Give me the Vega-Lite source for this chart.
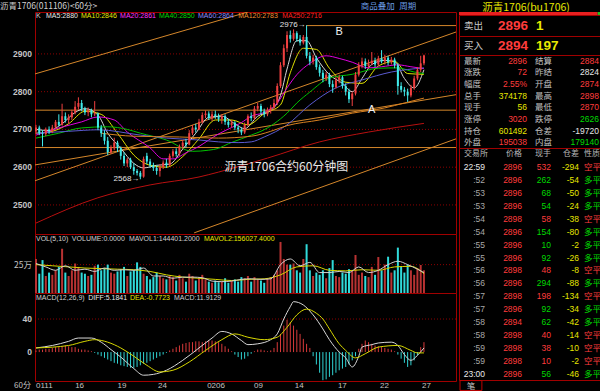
{
"$schema":"https://vega.github.io/schema/vega-lite/v6.json",
"background":"#000000",
"padding":0,
"spacing":0,
"config":{
 "view":{"stroke":"#a00000","strokeWidth":1},
 "concat":{"spacing":0},
 "font":"Liberation Sans"
},
"datasets":{
 "bars":[
{"i":0,"o":2695,"h":2712,"l":2688,"c":2705,"v":300000,"m":2},
{"i":1,"o":2705,"h":2710,"l":2685,"c":2690,"v":170000,"m":3},
{"i":2,"o":2690,"h":2698,"l":2655,"c":2688,"v":290000,"m":3},
{"i":3,"o":2688,"h":2705,"l":2682,"c":2700,"v":150000,"m":4},
{"i":4,"o":2700,"h":2708,"l":2688,"c":2695,"v":180000,"m":4},
{"i":5,"o":2695,"h":2712,"l":2690,"c":2705,"v":160000,"m":5},
{"i":6,"o":2705,"h":2725,"l":2700,"c":2720,"v":200000,"m":6},
{"i":7,"o":2720,"h":2740,"l":2708,"c":2712,"v":230000,"m":6},
{"i":8,"o":2712,"h":2768,"l":2710,"c":2735,"v":390000,"m":7},
{"i":9,"o":2735,"h":2745,"l":2718,"c":2725,"v":180000,"m":8},
{"i":10,"o":2725,"h":2740,"l":2715,"c":2732,"v":150000,"m":7},
{"i":11,"o":2732,"h":2752,"l":2725,"c":2745,"v":200000,"m":6},
{"i":12,"o":2745,"h":2775,"l":2740,"c":2760,"v":260000,"m":6},
{"i":13,"o":2760,"h":2785,"l":2752,"c":2770,"v":230000,"m":4},
{"i":14,"o":2770,"h":2778,"l":2748,"c":2755,"v":180000,"m":3},
{"i":15,"o":2755,"h":2760,"l":2738,"c":2745,"v":170000,"m":3},
{"i":16,"o":2745,"h":2758,"l":2735,"c":2750,"v":150000,"m":2},
{"i":17,"o":2750,"h":2755,"l":2732,"c":2740,"v":160000,"m":1},
{"i":18,"o":2740,"h":2775,"l":2735,"c":2742,"v":240000,"m":-1},
{"i":19,"o":2742,"h":2745,"l":2698,"c":2705,"v":250000,"m":-3},
{"i":20,"o":2705,"h":2712,"l":2680,"c":2690,"v":200000,"m":-5},
{"i":21,"o":2690,"h":2698,"l":2660,"c":2670,"v":220000,"m":-7},
{"i":22,"o":2670,"h":2680,"l":2632,"c":2640,"v":250000,"m":-9},
{"i":23,"o":2640,"h":2658,"l":2635,"c":2650,"v":180000,"m":-11},
{"i":24,"o":2650,"h":2678,"l":2645,"c":2665,"v":170000,"m":-13},
{"i":25,"o":2665,"h":2670,"l":2640,"c":2650,"v":190000,"m":-14},
{"i":26,"o":2650,"h":2655,"l":2620,"c":2630,"v":210000,"m":-16},
{"i":27,"o":2630,"h":2640,"l":2603,"c":2610,"v":230000,"m":-17},
{"i":28,"o":2610,"h":2625,"l":2600,"c":2620,"v":150000,"m":-18},
{"i":29,"o":2620,"h":2625,"l":2595,"c":2600,"v":190000,"m":-19},
{"i":30,"o":2600,"h":2610,"l":2580,"c":2590,"v":200000,"m":-19},
{"i":31,"o":2590,"h":2595,"l":2578,"c":2585,"v":270000,"m":-18},
{"i":32,"o":2585,"h":2590,"l":2568,"c":2575,"v":230000,"m":-16},
{"i":33,"o":2575,"h":2628,"l":2572,"c":2622,"v":170000,"m":-14},
{"i":34,"o":2630,"h":2638,"l":2608,"c":2615,"v":150000,"m":-13},
{"i":35,"o":2615,"h":2622,"l":2598,"c":2605,"v":120000,"m":-11},
{"i":36,"o":2605,"h":2612,"l":2590,"c":2598,"v":140000,"m":-9},
{"i":37,"o":2598,"h":2605,"l":2580,"c":2590,"v":180000,"m":-7},
{"i":38,"o":2590,"h":2608,"l":2575,"c":2600,"v":150000,"m":-5},
{"i":39,"o":2600,"h":2618,"l":2595,"c":2612,"v":130000,"m":-3},
{"i":40,"o":2612,"h":2622,"l":2598,"c":2605,"v":120000,"m":-1},
{"i":41,"o":2605,"h":2636,"l":2602,"c":2630,"v":150000,"m":2},
{"i":42,"o":2630,"h":2648,"l":2625,"c":2642,"v":140000,"m":4},
{"i":43,"o":2642,"h":2650,"l":2628,"c":2635,"v":110000,"m":6},
{"i":44,"o":2635,"h":2660,"l":2630,"c":2655,"v":160000,"m":8},
{"i":45,"o":2655,"h":2672,"l":2648,"c":2665,"v":130000,"m":10},
{"i":46,"o":2665,"h":2675,"l":2652,"c":2660,"v":100000,"m":11},
{"i":47,"o":2660,"h":2698,"l":2658,"c":2690,"v":170000,"m":12},
{"i":48,"o":2690,"h":2712,"l":2685,"c":2705,"v":150000,"m":12},
{"i":49,"o":2705,"h":2715,"l":2692,"c":2700,"v":110000,"m":13},
{"i":50,"o":2700,"h":2728,"l":2698,"c":2720,"v":130000,"m":13},
{"i":51,"o":2720,"h":2745,"l":2715,"c":2738,"v":160000,"m":12},
{"i":52,"o":2738,"h":2750,"l":2730,"c":2742,"v":120000,"m":13},
{"i":53,"o":2742,"h":2748,"l":2725,"c":2730,"v":100000,"m":14},
{"i":54,"o":2730,"h":2748,"l":2722,"c":2740,"v":90000,"m":14},
{"i":55,"o":2740,"h":2750,"l":2728,"c":2735,"v":110000,"m":13},
{"i":56,"o":2735,"h":2742,"l":2720,"c":2728,"v":95000,"m":12},
{"i":57,"o":2728,"h":2740,"l":2715,"c":2735,"v":100000,"m":10},
{"i":58,"o":2735,"h":2740,"l":2712,"c":2720,"v":130000,"m":7},
{"i":59,"o":2720,"h":2728,"l":2705,"c":2712,"v":90000,"m":4},
{"i":60,"o":2712,"h":2725,"l":2705,"c":2718,"v":110000,"m":1},
{"i":61,"o":2718,"h":2722,"l":2698,"c":2705,"v":120000,"m":-3},
{"i":62,"o":2705,"h":2710,"l":2690,"c":2700,"v":100000,"m":-6},
{"i":63,"o":2700,"h":2705,"l":2685,"c":2692,"v":140000,"m":-9},
{"i":64,"o":2692,"h":2718,"l":2688,"c":2712,"v":130000,"m":-8},
{"i":65,"o":2712,"h":2740,"l":2708,"c":2735,"v":150000,"m":-5},
{"i":66,"o":2735,"h":2745,"l":2722,"c":2730,"v":100000,"m":-2},
{"i":67,"o":2730,"h":2762,"l":2725,"c":2755,"v":140000,"m":1},
{"i":68,"o":2755,"h":2770,"l":2748,"c":2762,"v":120000,"m":3},
{"i":69,"o":2762,"h":2768,"l":2740,"c":2748,"v":110000,"m":3},
{"i":70,"o":2748,"h":2755,"l":2732,"c":2740,"v":90000,"m":2},
{"i":71,"o":2740,"h":2758,"l":2735,"c":2750,"v":130000,"m":1},
{"i":72,"o":2750,"h":2765,"l":2742,"c":2758,"v":140000,"m":2},
{"i":73,"o":2758,"h":2780,"l":2752,"c":2770,"v":160000,"m":5},
{"i":74,"o":2770,"h":2822,"l":2765,"c":2815,"v":200000,"m":12},
{"i":75,"o":2815,"h":2878,"l":2810,"c":2870,"v":450000,"m":22},
{"i":76,"o":2870,"h":2925,"l":2865,"c":2915,"v":300000,"m":32},
{"i":77,"o":2915,"h":2960,"l":2905,"c":2950,"v":250000,"m":39},
{"i":78,"o":2950,"h":2962,"l":2930,"c":2940,"v":250000,"m":36},
{"i":79,"o":2940,"h":2965,"l":2935,"c":2955,"v":260000,"m":32},
{"i":80,"o":2955,"h":2960,"l":2932,"c":2940,"v":200000,"m":27},
{"i":81,"o":2940,"h":2950,"l":2922,"c":2930,"v":180000,"m":22},
{"i":82,"o":2930,"h":2950,"l":2925,"c":2945,"v":300000,"m":16},
{"i":83,"o":2945,"h":2976,"l":2888,"c":2895,"v":430000,"m":10},
{"i":84,"o":2895,"h":2905,"l":2870,"c":2880,"v":200000,"m":5},
{"i":85,"o":2880,"h":2898,"l":2872,"c":2890,"v":150000,"m":-5},
{"i":86,"o":2890,"h":2895,"l":2858,"c":2865,"v":180000,"m":-15},
{"i":87,"o":2865,"h":2872,"l":2840,"c":2850,"v":160000,"m":-25},
{"i":88,"o":2850,"h":2858,"l":2825,"c":2835,"v":200000,"m":-34},
{"i":89,"o":2835,"h":2852,"l":2828,"c":2845,"v":130000,"m":-33},
{"i":90,"o":2845,"h":2850,"l":2812,"c":2820,"v":220000,"m":-30},
{"i":91,"o":2820,"h":2830,"l":2797,"c":2812,"v":290000,"m":-28},
{"i":92,"o":2812,"h":2840,"l":2808,"c":2830,"v":150000,"m":-25},
{"i":93,"o":2830,"h":2845,"l":2822,"c":2838,"v":140000,"m":-22},
{"i":94,"o":2838,"h":2842,"l":2808,"c":2815,"v":180000,"m":-20},
{"i":95,"o":2815,"h":2822,"l":2790,"c":2800,"v":170000,"m":-18},
{"i":96,"o":2800,"h":2808,"l":2770,"c":2780,"v":210000,"m":-15},
{"i":97,"o":2780,"h":2800,"l":2762,"c":2795,"v":200000,"m":-10},
{"i":98,"o":2795,"h":2852,"l":2790,"c":2845,"v":335000,"m":-5},
{"i":99,"o":2845,"h":2878,"l":2840,"c":2870,"v":160000,"m":4},
{"i":100,"o":2870,"h":2890,"l":2862,"c":2880,"v":180000,"m":10},
{"i":101,"o":2880,"h":2888,"l":2860,"c":2868,"v":150000,"m":14},
{"i":102,"o":2868,"h":2885,"l":2862,"c":2875,"v":140000,"m":12},
{"i":103,"o":2875,"h":2905,"l":2870,"c":2882,"v":230000,"m":10},
{"i":104,"o":2882,"h":2890,"l":2865,"c":2872,"v":160000,"m":8},
{"i":105,"o":2872,"h":2895,"l":2868,"c":2888,"v":317000,"m":7},
{"i":106,"o":2888,"h":2910,"l":2875,"c":2880,"v":200000,"m":6},
{"i":107,"o":2880,"h":2898,"l":2872,"c":2890,"v":250000,"m":5},
{"i":108,"o":2890,"h":2895,"l":2870,"c":2878,"v":320000,"m":4},
{"i":109,"o":2878,"h":2892,"l":2872,"c":2885,"v":180000,"m":3},
{"i":110,"o":2885,"h":2890,"l":2862,"c":2870,"v":200000,"m":1},
{"i":111,"o":2870,"h":2875,"l":2792,"c":2815,"v":400000,"m":-3},
{"i":112,"o":2815,"h":2825,"l":2798,"c":2805,"v":230000,"m":-8},
{"i":113,"o":2805,"h":2812,"l":2788,"c":2800,"v":180000,"m":-13},
{"i":114,"o":2800,"h":2808,"l":2773,"c":2790,"v":250000,"m":-18},
{"i":115,"o":2790,"h":2818,"l":2785,"c":2810,"v":200000,"m":-16},
{"i":116,"o":2810,"h":2842,"l":2805,"c":2835,"v":160000,"m":-10},
{"i":117,"o":2835,"h":2865,"l":2830,"c":2858,"v":220000,"m":-4},
{"i":118,"o":2858,"h":2895,"l":2852,"c":2875,"v":247000,"m":6},
{"i":119,"o":2875,"h":2898,"l":2870,"c":2896,"v":200000,"m":12}
 ],
 "ma":[
{"s":"MA5","i":0,"p":2700},{"s":"MA5","i":4,"p":2697},{"s":"MA5","i":8,"p":2715},{"s":"MA5","i":12,"p":2745},{"s":"MA5","i":15,"p":2755},{"s":"MA5","i":19,"p":2738},{"s":"MA5","i":22,"p":2690},{"s":"MA5","i":26,"p":2650},{"s":"MA5","i":30,"p":2610},{"s":"MA5","i":33,"p":2598},{"s":"MA5","i":37,"p":2605},{"s":"MA5","i":41,"p":2608},{"s":"MA5","i":45,"p":2648},{"s":"MA5","i":49,"p":2690},{"s":"MA5","i":53,"p":2732},{"s":"MA5","i":57,"p":2735},{"s":"MA5","i":61,"p":2715},{"s":"MA5","i":64,"p":2702},{"s":"MA5","i":68,"p":2735},{"s":"MA5","i":72,"p":2750},{"s":"MA5","i":75,"p":2790},{"s":"MA5","i":77,"p":2860},{"s":"MA5","i":80,"p":2935},{"s":"MA5","i":83,"p":2935},{"s":"MA5","i":86,"p":2890},{"s":"MA5","i":90,"p":2845},{"s":"MA5","i":94,"p":2822},{"s":"MA5","i":97,"p":2800},{"s":"MA5","i":100,"p":2835},{"s":"MA5","i":103,"p":2872},{"s":"MA5","i":107,"p":2883},{"s":"MA5","i":110,"p":2880},{"s":"MA5","i":113,"p":2835},{"s":"MA5","i":116,"p":2810},{"s":"MA5","i":119,"p":2858},
{"s":"MA10","i":0,"p":2690},{"s":"MA10","i":5,"p":2695},{"s":"MA10","i":10,"p":2715},{"s":"MA10","i":15,"p":2748},{"s":"MA10","i":20,"p":2740},{"s":"MA10","i":25,"p":2690},{"s":"MA10","i":30,"p":2632},{"s":"MA10","i":35,"p":2605},{"s":"MA10","i":40,"p":2600},{"s":"MA10","i":45,"p":2628},{"s":"MA10","i":50,"p":2675},{"s":"MA10","i":55,"p":2725},{"s":"MA10","i":60,"p":2725},{"s":"MA10","i":65,"p":2712},{"s":"MA10","i":70,"p":2742},{"s":"MA10","i":75,"p":2765},{"s":"MA10","i":78,"p":2850},{"s":"MA10","i":82,"p":2915},{"s":"MA10","i":86,"p":2912},{"s":"MA10","i":90,"p":2862},{"s":"MA10","i":95,"p":2825},{"s":"MA10","i":100,"p":2822},{"s":"MA10","i":105,"p":2868},{"s":"MA10","i":110,"p":2880},{"s":"MA10","i":114,"p":2848},{"s":"MA10","i":119,"p":2846},
{"s":"MA20","i":0,"p":2685},{"s":"MA20","i":7,"p":2704},{"s":"MA20","i":14,"p":2720},{"s":"MA20","i":19,"p":2733},{"s":"MA20","i":24,"p":2725},{"s":"MA20","i":28,"p":2693},{"s":"MA20","i":35,"p":2651},{"s":"MA20","i":39,"p":2622},{"s":"MA20","i":42,"p":2622},{"s":"MA20","i":46,"p":2638},{"s":"MA20","i":50,"p":2655},{"s":"MA20","i":53,"p":2672},{"s":"MA20","i":56,"p":2688},{"s":"MA20","i":60,"p":2705},{"s":"MA20","i":63,"p":2718},{"s":"MA20","i":66,"p":2735},{"s":"MA20","i":70,"p":2745},{"s":"MA20","i":74,"p":2770},{"s":"MA20","i":77,"p":2810},{"s":"MA20","i":80,"p":2845},{"s":"MA20","i":84,"p":2875},{"s":"MA20","i":89,"p":2895},{"s":"MA20","i":93,"p":2888},{"s":"MA20","i":97,"p":2878},{"s":"MA20","i":102,"p":2863},{"s":"MA20","i":106,"p":2866},{"s":"MA20","i":111,"p":2871},{"s":"MA20","i":115,"p":2866},{"s":"MA20","i":119,"p":2861},
{"s":"MA40","i":0,"p":2677},{"s":"MA40","i":7,"p":2690},{"s":"MA40","i":14,"p":2704},{"s":"MA40","i":22,"p":2707},{"s":"MA40","i":28,"p":2700},{"s":"MA40","i":32,"p":2690},{"s":"MA40","i":40,"p":2672},{"s":"MA40","i":48,"p":2642},{"s":"MA40","i":53,"p":2645},{"s":"MA40","i":56,"p":2650},{"s":"MA40","i":59,"p":2662},{"s":"MA40","i":63,"p":2675},{"s":"MA40","i":66,"p":2685},{"s":"MA40","i":69,"p":2695},{"s":"MA40","i":73,"p":2715},{"s":"MA40","i":77,"p":2743},{"s":"MA40","i":80,"p":2770},{"s":"MA40","i":84,"p":2799},{"s":"MA40","i":90,"p":2836},{"s":"MA40","i":97,"p":2846},{"s":"MA40","i":105,"p":2862},{"s":"MA40","i":111,"p":2863},{"s":"MA40","i":116,"p":2852},{"s":"MA40","i":119,"p":2848},
{"s":"MA60","i":0,"p":2690},{"s":"MA60","i":10,"p":2695},{"s":"MA60","i":19,"p":2699},{"s":"MA60","i":32,"p":2685},{"s":"MA60","i":40,"p":2677},{"s":"MA60","i":50,"p":2672},{"s":"MA60","i":56,"p":2667},{"s":"MA60","i":62,"p":2665},{"s":"MA60","i":66,"p":2667},{"s":"MA60","i":70,"p":2680},{"s":"MA60","i":77,"p":2712},{"s":"MA60","i":84,"p":2765},{"s":"MA60","i":92,"p":2810},{"s":"MA60","i":100,"p":2831},{"s":"MA60","i":109,"p":2852},{"s":"MA60","i":119,"p":2863},
{"s":"MA120","i":20,"p":2690},{"s":"MA120","i":30,"p":2682},{"s":"MA120","i":44,"p":2680},{"s":"MA120","i":56,"p":2677},{"s":"MA120","i":66,"p":2682},{"s":"MA120","i":72,"p":2695},{"s":"MA120","i":77,"p":2710},{"s":"MA120","i":87,"p":2725},{"s":"MA120","i":97,"p":2743},{"s":"MA120","i":107,"p":2757},{"s":"MA120","i":113,"p":2770},{"s":"MA120","i":119,"p":2783},
{"s":"MA250","i":0,"p":2452},{"s":"MA250","i":19,"p":2519},{"s":"MA250","i":35,"p":2553},{"s":"MA250","i":50,"p":2574},{"s":"MA250","i":56,"p":2587},{"s":"MA250","i":71,"p":2624},{"s":"MA250","i":87,"p":2667},{"s":"MA250","i":102,"p":2693},{"s":"MA250","i":119,"p":2716}
 ],
 "tl":[
{"g":"d1","i":-0.31,"p":2847},{"g":"d1","i":65,"p":3011},
{"g":"d2","i":-0.31,"p":2606},{"g":"d2","i":128.83,"p":2792},
{"g":"d3","i":-0.31,"p":2564},{"g":"d3","i":128.83,"p":2958},
{"g":"d4","i":48.5,"p":2426},{"g":"d4","i":128.83,"p":2675},
{"g":"h1","i":-0.31,"p":2751},{"g":"h1","i":128.83,"p":2751},
{"g":"h2","i":-0.31,"p":2652},{"g":"h2","i":128.83,"p":2652},
{"g":"hb","i":83,"p":2975},{"g":"hb","i":128.83,"p":2975}
 ],
 "pt":[{"v":2500,"t":"2500"},{"v":2600,"t":"2600"},{"v":2700,"t":"2700"},{"v":2800,"t":"2800"},{"v":2900,"t":"2900"}],
 "vt":[{"v":250000,"t":"25万"}],
 "mt":[{"v":0,"t":"0"},{"v":40,"t":"40"}],
 "ext":[{"t":"2568→","i":32,"p":2568},{"t":"2976→","i":83,"p":2976}],
 "lab":[{"k":"B","t":"B"},{"k":"A","t":"A"},{"k":"T","t":"沥青1706合约60分钟图"}],
 "pleg":[{"s":"K","t":"K"},{"s":"MA5","t":"MA5:2880"},{"s":"MA10","t":"MA10:2846"},{"s":"MA20","t":"MA20:2861"},{"s":"MA40","t":"MA40:2850"},{"s":"MA60","t":"MA60:2864"},{"s":"MA120","t":"MA120:2783"},{"s":"MA250","t":"MA250:2716"}],
 "vma":[
{"s":"MAVOL2","i":0,"v":250000},{"s":"MAVOL2","i":5,"v":240000},{"s":"MAVOL2","i":10,"v":230000},{"s":"MAVOL2","i":15,"v":220000},{"s":"MAVOL2","i":20,"v":215000},{"s":"MAVOL2","i":25,"v":210000},{"s":"MAVOL2","i":30,"v":205000},{"s":"MAVOL2","i":35,"v":190000},{"s":"MAVOL2","i":40,"v":160000},{"s":"MAVOL2","i":45,"v":140000},{"s":"MAVOL2","i":50,"v":130000},{"s":"MAVOL2","i":55,"v":120000},{"s":"MAVOL2","i":60,"v":110000},{"s":"MAVOL2","i":65,"v":120000},{"s":"MAVOL2","i":70,"v":125000},{"s":"MAVOL2","i":75,"v":160000},{"s":"MAVOL2","i":80,"v":230000},{"s":"MAVOL2","i":85,"v":240000},{"s":"MAVOL2","i":90,"v":200000},{"s":"MAVOL2","i":95,"v":195000},{"s":"MAVOL2","i":100,"v":205000},{"s":"MAVOL2","i":105,"v":200000},{"s":"MAVOL2","i":110,"v":230000},{"s":"MAVOL2","i":115,"v":235000},{"s":"MAVOL2","i":119,"v":170000},
{"s":"MAVOL1","i":0,"v":260000},{"s":"MAVOL1","i":3,"v":230000},{"s":"MAVOL1","i":6,"v":200000},{"s":"MAVOL1","i":9,"v":240000},{"s":"MAVOL1","i":12,"v":200000},{"s":"MAVOL1","i":15,"v":210000},{"s":"MAVOL1","i":18,"v":190000},{"s":"MAVOL1","i":21,"v":220000},{"s":"MAVOL1","i":24,"v":200000},{"s":"MAVOL1","i":27,"v":205000},{"s":"MAVOL1","i":30,"v":200000},{"s":"MAVOL1","i":33,"v":220000},{"s":"MAVOL1","i":36,"v":150000},{"s":"MAVOL1","i":39,"v":150000},{"s":"MAVOL1","i":42,"v":130000},{"s":"MAVOL1","i":45,"v":140000},{"s":"MAVOL1","i":48,"v":140000},{"s":"MAVOL1","i":51,"v":135000},{"s":"MAVOL1","i":54,"v":105000},{"s":"MAVOL1","i":57,"v":100000},{"s":"MAVOL1","i":60,"v":105000},{"s":"MAVOL1","i":63,"v":120000},{"s":"MAVOL1","i":66,"v":125000},{"s":"MAVOL1","i":69,"v":120000},{"s":"MAVOL1","i":72,"v":125000},{"s":"MAVOL1","i":75,"v":250000},{"s":"MAVOL1","i":78,"v":300000},{"s":"MAVOL1","i":81,"v":240000},{"s":"MAVOL1","i":84,"v":270000},{"s":"MAVOL1","i":87,"v":180000},{"s":"MAVOL1","i":90,"v":180000},{"s":"MAVOL1","i":93,"v":190000},{"s":"MAVOL1","i":96,"v":180000},{"s":"MAVOL1","i":99,"v":230000},{"s":"MAVOL1","i":102,"v":180000},{"s":"MAVOL1","i":105,"v":200000},{"s":"MAVOL1","i":108,"v":250000},{"s":"MAVOL1","i":111,"v":280000},{"s":"MAVOL1","i":114,"v":250000},{"s":"MAVOL1","i":117,"v":210000},{"s":"MAVOL1","i":119,"v":180000}
 ],
 "vleg":[{"s":"VOL","t":"VOL(5,10)"},{"s":"VOLUME","t":"VOLUME:0.0000"},{"s":"MAVOL1","t":"MAVOL1:144401.2000"},{"s":"MAVOL2","t":"MAVOL2:156027.4000"}],
 "mline":[
{"s":"DIFF","i":0,"m":5},{"s":"DIFF","i":5,"m":8},{"s":"DIFF","i":10,"m":13},{"s":"DIFF","i":13,"m":17},{"s":"DIFF","i":17,"m":17},{"s":"DIFF","i":20,"m":12},{"s":"DIFF","i":23,"m":3},{"s":"DIFF","i":26,"m":-6},{"s":"DIFF","i":30,"m":-20},{"s":"DIFF","i":33,"m":-28},{"s":"DIFF","i":36,"m":-27},{"s":"DIFF","i":40,"m":-22},{"s":"DIFF","i":45,"m":-10},{"s":"DIFF","i":50,"m":5},{"s":"DIFF","i":54,"m":17},{"s":"DIFF","i":57,"m":25},{"s":"DIFF","i":60,"m":22},{"s":"DIFF","i":63,"m":14},{"s":"DIFF","i":65,"m":9},{"s":"DIFF","i":68,"m":10},{"s":"DIFF","i":72,"m":15},{"s":"DIFF","i":74,"m":22},{"s":"DIFF","i":76,"m":40},{"s":"DIFF","i":78,"m":55},{"s":"DIFF","i":79,"m":61},{"s":"DIFF","i":82,"m":57},{"s":"DIFF","i":85,"m":45},{"s":"DIFF","i":88,"m":28},{"s":"DIFF","i":90,"m":15},{"s":"DIFF","i":93,"m":0},{"s":"DIFF","i":95,"m":-7},{"s":"DIFF","i":97,"m":-18},{"s":"DIFF","i":99,"m":-5},{"s":"DIFF","i":100,"m":6},{"s":"DIFF","i":103,"m":9},{"s":"DIFF","i":105,"m":11},{"s":"DIFF","i":109,"m":12},{"s":"DIFF","i":111,"m":8},{"s":"DIFF","i":113,"m":-3},{"s":"DIFF","i":115,"m":-10},{"s":"DIFF","i":117,"m":-4},{"s":"DIFF","i":119,"m":5},
{"s":"DEA","i":0,"m":5},{"s":"DEA","i":10,"m":8},{"s":"DEA","i":15,"m":13},{"s":"DEA","i":18,"m":15},{"s":"DEA","i":22,"m":12},{"s":"DEA","i":26,"m":5},{"s":"DEA","i":30,"m":-5},{"s":"DEA","i":34,"m":-16},{"s":"DEA","i":38,"m":-24},{"s":"DEA","i":42,"m":-22},{"s":"DEA","i":47,"m":-12},{"s":"DEA","i":52,"m":2},{"s":"DEA","i":57,"m":15},{"s":"DEA","i":61,"m":22},{"s":"DEA","i":65,"m":18},{"s":"DEA","i":70,"m":15},{"s":"DEA","i":74,"m":18},{"s":"DEA","i":77,"m":30},{"s":"DEA","i":80,"m":45},{"s":"DEA","i":83,"m":52},{"s":"DEA","i":86,"m":47},{"s":"DEA","i":88,"m":40},{"s":"DEA","i":90,"m":28},{"s":"DEA","i":93,"m":10},{"s":"DEA","i":95,"m":2},{"s":"DEA","i":98,"m":-7},{"s":"DEA","i":101,"m":-2},{"s":"DEA","i":105,"m":6},{"s":"DEA","i":111,"m":8},{"s":"DEA","i":115,"m":2},{"s":"DEA","i":117,"m":-1},{"s":"DEA","i":119,"m":-1}
 ],
 "mleg":[{"s":"MACD","t":"MACD(12,26,9)"},{"s":"DIFF","t":"DIFF:5.1841"},{"s":"DEA","t":"DEA:-0.7723"},{"s":"MACDV","t":"MACD:11.9129"}],
 "xl":[{"t":"0111","i":0},{"t":"16","i":12},{"t":"19","i":25},{"t":"24","i":37.4},{"t":"0206","i":52.5},{"t":"09","i":66.9},{"t":"14","i":79.4},{"t":"17","i":92.6},{"t":"22","i":105.5},{"t":"27","i":118.4}],
 "xunit":[{"t":"60分"}],
 "hdr":[{"k":"title","t":"沥青1706(011106)<60分>"},{"k":"a","t":"商品叠加"},{"k":"b","t":"周期"}],
 "rhead":[{"t":"沥青1706(bu1706)"}],
 "sell":[{"a":"卖出","p":"2896","q":"1"}],
 "buy":[{"a":"买入","p":"2894","q":"197"}],
 "stats":[
{"r":0,"a":"最新","av":"2896","at":"up","b":"结算","bv":"2884","bt":"up"},
{"r":1,"a":"涨跌","av":"72","at":"up","b":"昨结","bv":"2824","bt":"eq"},
{"r":2,"a":"幅度","av":"2.55%","at":"up","b":"开盘","bv":"2874","bt":"up"},
{"r":3,"a":"总手","av":"374178","at":"vol","b":"最高","bv":"2898","bt":"up"},
{"r":4,"a":"现手","av":"56","at":"vol","b":"最低","bv":"2870","bt":"up"},
{"r":5,"a":"涨停","av":"3020","at":"up","b":"跌停","bv":"2626","bt":"dn"},
{"r":6,"a":"持仓","av":"601492","at":"vol","b":"仓差","bv":"-19720","bt":"eq"},
{"r":7,"a":"外盘","av":"195038","at":"up","b":"内盘","bv":"179140","bt":"dn"}
 ],
 "th":[{"r":0,"t":"交易所","p":"价格","q":"现手","d":"仓差","n":"性质"}],
 "tr":[
{"r":1,"t":"22:59","p":"2896","q":"532","d":"-294","n":"空平"},
{"r":2,"t":":52","p":"2896","q":"262","d":"-54","n":"多平"},
{"r":3,"t":":53","p":"2896","q":"68","d":"-50","n":"多平"},
{"r":4,"t":":53","p":"2896","q":"54","d":"-24","n":"多平"},
{"r":5,"t":":54","p":"2898","q":"58","d":"-38","n":"空平"},
{"r":6,"t":":54","p":"2896","q":"154","d":"-80","n":"多平"},
{"r":7,"t":":55","p":"2896","q":"10","d":"-2","n":"多平"},
{"r":8,"t":":55","p":"2896","q":"92","d":"-26","n":"多平"},
{"r":9,"t":":56","p":"2898","q":"48","d":"-8","n":"空平"},
{"r":10,"t":":56","p":"2896","q":"294","d":"-88","n":"多平"},
{"r":11,"t":":57","p":"2898","q":"198","d":"-134","n":"空平"},
{"r":12,"t":":57","p":"2896","q":"92","d":"-34","n":"多平"},
{"r":13,"t":":58","p":"2894","q":"62","d":"-42","n":"多平"},
{"r":14,"t":":58","p":"2898","q":"40","d":"-14","n":"空平"},
{"r":15,"t":":59","p":"2898","q":"38","d":"-10","n":"空平"},
{"r":16,"t":":59","p":"2898","q":"10","d":"-2","n":"空平"},
{"r":17,"t":"23:00","p":"2896","q":"56","d":"-46","n":"多平"}
 ],
 "tab":[{"t":"笔"}],
 "deco":[{"k":"line"}]
},
"hconcat":[
 {"spacing":0,"bounds":"flush","vconcat":[
  {"width":421,"height":12,"view":{"stroke":null},"layer":[
   {"data":{"name":"hdr"},"transform":[{"filter":"datum.k=='title'"}],"mark":{"type":"text","align":"left","baseline":"middle","dx":-35,"fontSize":8.5,"font":"Noto Sans CJK SC","color":"#d0d0d0"},"encoding":{"x":{"datum":0,"type":"quantitative","scale":{"domain":[0,100],"nice":false,"zero":false},"axis":null},"y":{"datum":0.5,"type":"quantitative","scale":{"domain":[0,1],"nice":false},"axis":null},"text":{"field":"t"}}},
   {"data":{"name":"hdr"},"transform":[{"filter":"datum.k=='a'"}],"mark":{"type":"text","align":"left","baseline":"middle","fontSize":8.5,"font":"Noto Sans CJK SC","color":"#6a9ae0"},"encoding":{"x":{"datum":77.4,"type":"quantitative","scale":{"domain":[0,100],"nice":false,"zero":false},"axis":null},"y":{"datum":0.5,"type":"quantitative","scale":{"domain":[0,1],"nice":false},"axis":null},"text":{"field":"t"}}},
   {"data":{"name":"hdr"},"transform":[{"filter":"datum.k=='b'"}],"mark":{"type":"text","align":"left","baseline":"middle","fontSize":8.5,"font":"Noto Sans CJK SC","color":"#6a9ae0"},"encoding":{"x":{"datum":86.5,"type":"quantitative","scale":{"domain":[0,100],"nice":false,"zero":false},"axis":null},"y":{"datum":0.5,"type":"quantitative","scale":{"domain":[0,1],"nice":false},"axis":null},"text":{"field":"t"}}}
  ]},
  {"width":421,"height":222,"layer":[
   {"data":{"name":"pt"},"mark":{"type":"rule","color":"#8c0000","strokeDash":[1,2],"strokeWidth":1},"encoding":{"y":{"field":"v","type":"quantitative","scale":{"domain":[2423,3011],"nice":false,"zero":false},"axis":null}}},
   {"data":{"name":"pt"},"mark":{"type":"text","align":"right","baseline":"middle","dx":-3,"fontSize":8.5,"fontWeight":"bold","color":"#c4c4c4"},"encoding":{"x":{"datum":-0.31,"type":"quantitative","scale":{"domain":[-0.31,128.83],"nice":false,"zero":false,"padding":0},"axis":null},"y":{"field":"v","type":"quantitative","scale":{"domain":[2423,3011],"nice":false,"zero":false},"axis":null},"text":{"field":"t"}}},
   {"data":{"name":"tl"},"mark":{"type":"line","clip":true,"color":"#d4862a","strokeWidth":1},"encoding":{"x":{"field":"i","type":"quantitative","scale":{"domain":[-0.31,128.83],"nice":false,"zero":false,"padding":0},"axis":null},"y":{"field":"p","type":"quantitative","scale":{"domain":[2423,3011],"nice":false,"zero":false},"axis":null},"detail":{"field":"g"}}},
   {"data":{"name":"ma"},"mark":{"type":"line","clip":true,"strokeWidth":1,"interpolate":"monotone"},"encoding":{"x":{"field":"i","type":"quantitative","scale":{"domain":[-0.31,128.83],"nice":false,"zero":false,"padding":0},"axis":null},"y":{"field":"p","type":"quantitative","scale":{"domain":[2423,3011],"nice":false,"zero":false},"axis":null},"detail":{"field":"s"},"color":{"condition":[{"test":"datum.s=='MA5'","value":"#d8d8d8"},{"test":"datum.s=='MA10'","value":"#e0e000"},{"test":"datum.s=='MA20'","value":"#e000e0"},{"test":"datum.s=='MA40'","value":"#00c000"},{"test":"datum.s=='MA60'","value":"#5a5ad0"},{"test":"datum.s=='MA120'","value":"#d88020"}],"value":"#b81010"}}},
   {"data":{"name":"bars"},"mark":{"type":"rule","strokeWidth":1},"encoding":{"x":{"field":"i","type":"quantitative","scale":{"domain":[-0.31,128.83],"nice":false,"zero":false,"padding":0},"axis":null},"y":{"field":"l","type":"quantitative","scale":{"domain":[2423,3011],"nice":false,"zero":false},"axis":null},"y2":{"field":"h"},"color":{"condition":{"test":"datum.c >= datum.o","value":"#f04040"},"value":"#40ecec"}}},
   {"data":{"name":"bars"},"mark":{"type":"bar","width":2},"encoding":{"x":{"field":"i","type":"quantitative","scale":{"domain":[-0.31,128.83],"nice":false,"zero":false,"padding":0},"axis":null},"y":{"field":"o","type":"quantitative","scale":{"domain":[2423,3011],"nice":false,"zero":false},"axis":null},"y2":{"field":"c"},"color":{"condition":{"test":"datum.c >= datum.o","value":"#f04040"},"value":"#40ecec"}}},
   {"data":{"name":"ext"},"mark":{"type":"text","align":"right","baseline":"middle","dx":-1,"fontSize":8,"color":"#e0e0e0"},"encoding":{"x":{"field":"i","type":"quantitative","scale":{"domain":[-0.31,128.83],"nice":false,"zero":false,"padding":0},"axis":null},"y":{"field":"p","type":"quantitative","scale":{"domain":[2423,3011],"nice":false,"zero":false},"axis":null},"text":{"field":"t"}}},
   {"data":{"name":"lab"},"transform":[{"filter":"datum.k=='B'"}],"mark":{"type":"text","align":"center","baseline":"middle","fontSize":11,"color":"#f0f0f0"},"encoding":{"x":{"datum":93,"type":"quantitative","axis":null},"y":{"datum":2958,"type":"quantitative","axis":null},"text":{"field":"t"}}},
   {"data":{"name":"lab"},"transform":[{"filter":"datum.k=='A'"}],"mark":{"type":"text","align":"center","baseline":"middle","fontSize":11,"color":"#f0f0f0"},"encoding":{"x":{"datum":103,"type":"quantitative","axis":null},"y":{"datum":2752,"type":"quantitative","axis":null},"text":{"field":"t"}}},
   {"data":{"name":"lab"},"transform":[{"filter":"datum.k=='T'"}],"mark":{"type":"text","align":"center","baseline":"middle","fontSize":12,"font":"Noto Sans CJK SC","color":"#e8e8e8"},"encoding":{"x":{"datum":76.8,"type":"quantitative","axis":null},"y":{"datum":2600,"type":"quantitative","axis":null},"text":{"field":"t"}}},
   {"data":{"name":"pleg"},"transform":[{"filter":"datum.s=='K'"}],"mark":{"type":"text","align":"left","baseline":"middle","fontSize":7,"color":"#d8d8d8"},"encoding":{"x":{"datum":0,"type":"quantitative","axis":null},"y":{"datum":3000,"type":"quantitative","axis":null},"text":{"field":"t"}}},
   {"data":{"name":"pleg"},"transform":[{"filter":"datum.s=='MA5'"}],"mark":{"type":"text","align":"left","baseline":"middle","fontSize":7,"color":"#e8e8e8"},"encoding":{"x":{"datum":3.07,"type":"quantitative","axis":null},"y":{"datum":3000,"type":"quantitative","axis":null},"text":{"field":"t"}}},
   {"data":{"name":"pleg"},"transform":[{"filter":"datum.s=='MA10'"}],"mark":{"type":"text","align":"left","baseline":"middle","fontSize":7,"color":"#e8e800"},"encoding":{"x":{"datum":13.8,"type":"quantitative","axis":null},"y":{"datum":3000,"type":"quantitative","axis":null},"text":{"field":"t"}}},
   {"data":{"name":"pleg"},"transform":[{"filter":"datum.s=='MA20'"}],"mark":{"type":"text","align":"left","baseline":"middle","fontSize":7,"color":"#ff30ff"},"encoding":{"x":{"datum":25.8,"type":"quantitative","axis":null},"y":{"datum":3000,"type":"quantitative","axis":null},"text":{"field":"t"}}},
   {"data":{"name":"pleg"},"transform":[{"filter":"datum.s=='MA40'"}],"mark":{"type":"text","align":"left","baseline":"middle","fontSize":7,"color":"#00d800"},"encoding":{"x":{"datum":37.7,"type":"quantitative","axis":null},"y":{"datum":3000,"type":"quantitative","axis":null},"text":{"field":"t"}}},
   {"data":{"name":"pleg"},"transform":[{"filter":"datum.s=='MA60'"}],"mark":{"type":"text","align":"left","baseline":"middle","fontSize":7,"color":"#8c8cff"},"encoding":{"x":{"datum":49.7,"type":"quantitative","axis":null},"y":{"datum":3000,"type":"quantitative","axis":null},"text":{"field":"t"}}},
   {"data":{"name":"pleg"},"transform":[{"filter":"datum.s=='MA120'"}],"mark":{"type":"text","align":"left","baseline":"middle","fontSize":7,"color":"#f09030"},"encoding":{"x":{"datum":62,"type":"quantitative","axis":null},"y":{"datum":3000,"type":"quantitative","axis":null},"text":{"field":"t"}}},
   {"data":{"name":"pleg"},"transform":[{"filter":"datum.s=='MA250'"}],"mark":{"type":"text","align":"left","baseline":"middle","fontSize":7,"color":"#ff2020"},"encoding":{"x":{"datum":75.5,"type":"quantitative","axis":null},"y":{"datum":3000,"type":"quantitative","axis":null},"text":{"field":"t"}}}
  ]},
  {"width":421,"height":59,"layer":[
   {"data":{"name":"vt"},"mark":{"type":"rule","color":"#8c0000","strokeDash":[1,2],"strokeWidth":1},"encoding":{"y":{"field":"v","type":"quantitative","scale":{"domain":[0,520000],"nice":false,"zero":false},"axis":null}}},
   {"data":{"name":"vt"},"mark":{"type":"text","align":"right","baseline":"middle","dx":-3,"fontSize":8.5,"font":"Noto Sans CJK SC","color":"#c4c4c4"},"encoding":{"x":{"datum":-0.31,"type":"quantitative","scale":{"domain":[-0.31,128.83],"nice":false,"zero":false,"padding":0},"axis":null},"y":{"field":"v","type":"quantitative","scale":{"domain":[0,520000],"nice":false,"zero":false},"axis":null},"text":{"field":"t"}}},
   {"data":{"name":"bars"},"mark":{"type":"bar","width":2},"encoding":{"x":{"field":"i","type":"quantitative","scale":{"domain":[-0.31,128.83],"nice":false,"zero":false,"padding":0},"axis":null},"y":{"field":"v","type":"quantitative","scale":{"domain":[0,520000],"nice":false,"zero":false},"axis":null},"y2":{"datum":0},"color":{"condition":{"test":"datum.c >= datum.o","value":"#b83232"},"value":"#30dada"}}},
   {"data":{"name":"vma"},"mark":{"type":"line","clip":true,"strokeWidth":1,"interpolate":"monotone"},"encoding":{"x":{"field":"i","type":"quantitative","scale":{"domain":[-0.31,128.83],"nice":false,"zero":false,"padding":0},"axis":null},"y":{"field":"v","type":"quantitative","scale":{"domain":[0,520000],"nice":false,"zero":false},"axis":null},"detail":{"field":"s"},"color":{"condition":{"test":"datum.s=='MAVOL1'","value":"#d0d0d0"},"value":"#d8d800"}}},
   {"data":{"name":"vleg"},"transform":[{"filter":"datum.s=='VOL'"}],"mark":{"type":"text","align":"left","baseline":"middle","fontSize":7,"color":"#d0d0d0"},"encoding":{"x":{"datum":0,"type":"quantitative","axis":null},"y":{"datum":476000,"type":"quantitative","axis":null},"text":{"field":"t"}}},
   {"data":{"name":"vleg"},"transform":[{"filter":"datum.s=='VOLUME'"}],"mark":{"type":"text","align":"left","baseline":"middle","fontSize":7,"color":"#d0d0d0"},"encoding":{"x":{"datum":11,"type":"quantitative","axis":null},"y":{"datum":476000,"type":"quantitative","axis":null},"text":{"field":"t"}}},
   {"data":{"name":"vleg"},"transform":[{"filter":"datum.s=='MAVOL1'"}],"mark":{"type":"text","align":"left","baseline":"middle","fontSize":7,"color":"#d0d0d0"},"encoding":{"x":{"datum":28.5,"type":"quantitative","axis":null},"y":{"datum":476000,"type":"quantitative","axis":null},"text":{"field":"t"}}},
   {"data":{"name":"vleg"},"transform":[{"filter":"datum.s=='MAVOL2'"}],"mark":{"type":"text","align":"left","baseline":"middle","fontSize":7,"color":"#e8e800"},"encoding":{"x":{"datum":51.5,"type":"quantitative","axis":null},"y":{"datum":476000,"type":"quantitative","axis":null},"text":{"field":"t"}}}
  ]},
  {"width":421,"height":88,"layer":[
   {"data":{"name":"mt"},"transform":[{"filter":"datum.v > 0"}],"mark":{"type":"rule","color":"#8c0000","strokeDash":[1,2],"strokeWidth":1},"encoding":{"y":{"field":"v","type":"quantitative","scale":{"domain":[-35,71.5],"nice":false,"zero":false},"axis":null}}},
   {"data":{"name":"mt"},"mark":{"type":"text","align":"right","baseline":"middle","dx":-3,"fontSize":8.5,"fontWeight":"bold","color":"#c4c4c4"},"encoding":{"x":{"datum":-0.31,"type":"quantitative","scale":{"domain":[-0.31,128.83],"nice":false,"zero":false,"padding":0},"axis":null},"y":{"field":"v","type":"quantitative","scale":{"domain":[-35,71.5],"nice":false,"zero":false},"axis":null},"text":{"field":"t"}}},
   {"data":{"name":"bars"},"mark":{"type":"rule","strokeWidth":1},"encoding":{"x":{"field":"i","type":"quantitative","scale":{"domain":[-0.31,128.83],"nice":false,"zero":false,"padding":0},"axis":null},"y":{"field":"m","type":"quantitative","scale":{"domain":[-35,71.5],"nice":false,"zero":false},"axis":null},"y2":{"datum":0},"color":{"condition":{"test":"datum.m >= 0","value":"#d83a3a"},"value":"#30d4d4"}}},
   {"data":{"name":"mline"},"mark":{"type":"line","clip":true,"strokeWidth":1,"interpolate":"monotone"},"encoding":{"x":{"field":"i","type":"quantitative","scale":{"domain":[-0.31,128.83],"nice":false,"zero":false,"padding":0},"axis":null},"y":{"field":"m","type":"quantitative","scale":{"domain":[-35,71.5],"nice":false,"zero":false},"axis":null},"detail":{"field":"s"},"color":{"condition":{"test":"datum.s=='DIFF'","value":"#d8d8d8"},"value":"#d8d800"}}},
   {"data":{"name":"mleg"},"transform":[{"filter":"datum.s=='MACD'"}],"mark":{"type":"text","align":"left","baseline":"middle","fontSize":7,"color":"#d0d0d0"},"encoding":{"x":{"datum":0,"type":"quantitative","axis":null},"y":{"datum":66,"type":"quantitative","axis":null},"text":{"field":"t"}}},
   {"data":{"name":"mleg"},"transform":[{"filter":"datum.s=='DIFF'"}],"mark":{"type":"text","align":"left","baseline":"middle","fontSize":7,"color":"#e8e8e8"},"encoding":{"x":{"datum":16,"type":"quantitative","axis":null},"y":{"datum":66,"type":"quantitative","axis":null},"text":{"field":"t"}}},
   {"data":{"name":"mleg"},"transform":[{"filter":"datum.s=='DEA'"}],"mark":{"type":"text","align":"left","baseline":"middle","fontSize":7,"color":"#e8e800"},"encoding":{"x":{"datum":28.8,"type":"quantitative","axis":null},"y":{"datum":66,"type":"quantitative","axis":null},"text":{"field":"t"}}},
   {"data":{"name":"mleg"},"transform":[{"filter":"datum.s=='MACDV'"}],"mark":{"type":"text","align":"left","baseline":"middle","fontSize":7,"color":"#d0d0d0"},"encoding":{"x":{"datum":42.3,"type":"quantitative","axis":null},"y":{"datum":66,"type":"quantitative","axis":null},"text":{"field":"t"}}}
  ]},
  {"width":421,"height":10,"view":{"stroke":null},"layer":[
   {"data":{"name":"xl"},"mark":{"type":"text","align":"left","baseline":"middle","fontSize":8,"color":"#c4c4c4"},"encoding":{"x":{"field":"i","type":"quantitative","scale":{"domain":[-0.31,128.83],"nice":false,"zero":false,"padding":0},"axis":null},"y":{"datum":0.5,"type":"quantitative","scale":{"domain":[0,1],"nice":false},"axis":null},"text":{"field":"t"}}},
   {"data":{"name":"xunit"},"mark":{"type":"text","align":"right","baseline":"middle","dx":-4,"fontSize":8,"font":"Noto Sans CJK SC","color":"#c4c4c4"},"encoding":{"x":{"datum":-0.31,"type":"quantitative","axis":null},"y":{"datum":0.5,"type":"quantitative","axis":null},"text":{"field":"t"}}}
  ]}
 ]},
 {"spacing":0,"bounds":"flush","vconcat":[
  {"width":143,"height":15,"view":{"stroke":null},"layer":[
   {"data":{"name":"rhead"},"mark":{"type":"text","align":"center","baseline":"middle","fontSize":10.5,"font":"Noto Sans CJK SC","color":"#e8e800"},"encoding":{"x":{"datum":46.9,"type":"quantitative","scale":{"domain":[0,100],"nice":false,"zero":false},"axis":null},"y":{"datum":0.48,"type":"quantitative","scale":{"domain":[0,1],"nice":false},"axis":null},"text":{"field":"t"}}},
   {"data":{"name":"deco"},"mark":{"type":"rule","color":"#e82020","strokeWidth":3},"encoding":{"x":{"datum":0,"type":"quantitative","axis":null},"x2":{"datum":97},"y":{"datum":0.1,"type":"quantitative","axis":null}}},
   {"data":{"name":"deco"},"mark":{"type":"rule","color":"#20c020","strokeWidth":3},"encoding":{"x":{"datum":97,"type":"quantitative","axis":null},"x2":{"datum":100},"y":{"datum":0.1,"type":"quantitative","axis":null}}}
  ]},
  {"width":143,"height":21,"layer":[
   {"data":{"name":"sell"},"mark":{"type":"text","align":"left","baseline":"middle","fontSize":9.5,"font":"Noto Sans CJK SC","color":"#c8c8c8"},"encoding":{"x":{"datum":3.5,"type":"quantitative","scale":{"domain":[0,100],"nice":false,"zero":false},"axis":null},"y":{"datum":0.5,"type":"quantitative","scale":{"domain":[0,1],"nice":false},"axis":null},"text":{"field":"a"}}},
   {"data":{"name":"sell"},"mark":{"type":"text","align":"right","baseline":"middle","fontSize":13.5,"fontWeight":"bold","color":"#ff3c3c"},"encoding":{"x":{"datum":48.3,"type":"quantitative","axis":null},"y":{"datum":0.5,"type":"quantitative","axis":null},"text":{"field":"p"}}},
   {"data":{"name":"sell"},"mark":{"type":"text","align":"left","baseline":"middle","fontSize":13.5,"fontWeight":"bold","color":"#e8e800"},"encoding":{"x":{"datum":53.8,"type":"quantitative","axis":null},"y":{"datum":0.5,"type":"quantitative","axis":null},"text":{"field":"q"}}}
  ]},
  {"width":143,"height":19,"layer":[
   {"data":{"name":"buy"},"mark":{"type":"text","align":"left","baseline":"middle","fontSize":9.5,"font":"Noto Sans CJK SC","color":"#c8c8c8"},"encoding":{"x":{"datum":3.5,"type":"quantitative","scale":{"domain":[0,100],"nice":false,"zero":false},"axis":null},"y":{"datum":0.5,"type":"quantitative","scale":{"domain":[0,1],"nice":false},"axis":null},"text":{"field":"a"}}},
   {"data":{"name":"buy"},"mark":{"type":"text","align":"right","baseline":"middle","fontSize":13.5,"fontWeight":"bold","color":"#ff3c3c"},"encoding":{"x":{"datum":48.3,"type":"quantitative","axis":null},"y":{"datum":0.5,"type":"quantitative","axis":null},"text":{"field":"p"}}},
   {"data":{"name":"buy"},"mark":{"type":"text","align":"left","baseline":"middle","fontSize":13.5,"fontWeight":"bold","color":"#e8e800"},"encoding":{"x":{"datum":53.8,"type":"quantitative","axis":null},"y":{"datum":0.5,"type":"quantitative","axis":null},"text":{"field":"q"}}}
  ]},
  {"width":143,"height":93,"layer":[
   {"data":{"name":"stats"},"mark":{"type":"text","align":"left","baseline":"middle","fontSize":8.5,"font":"Noto Sans CJK SC","color":"#c0c0c0"},"encoding":{"x":{"datum":3.5,"type":"quantitative","scale":{"domain":[0,100],"nice":false,"zero":false},"axis":null},"y":{"field":"r","type":"ordinal","scale":{"domain":[0,1,2,3,4,5,6,7]},"axis":null},"text":{"field":"a"}}},
   {"data":{"name":"stats"},"mark":{"type":"text","align":"right","baseline":"middle","fontSize":8.5},"encoding":{"x":{"datum":47.6,"type":"quantitative","axis":null},"y":{"field":"r","type":"ordinal","axis":null},"text":{"field":"av"},"color":{"condition":[{"test":"datum.at=='up'","value":"#ff3c3c"},{"test":"datum.at=='dn'","value":"#00dc00"},{"test":"datum.at=='vol'","value":"#e6e600"}],"value":"#e6e6e6"}}},
   {"data":{"name":"stats"},"mark":{"type":"text","align":"left","baseline":"middle","fontSize":8.5,"font":"Noto Sans CJK SC","color":"#c0c0c0"},"encoding":{"x":{"datum":53.1,"type":"quantitative","axis":null},"y":{"field":"r","type":"ordinal","axis":null},"text":{"field":"b"}}},
   {"data":{"name":"stats"},"mark":{"type":"text","align":"right","baseline":"middle","fontSize":8.5},"encoding":{"x":{"datum":97.9,"type":"quantitative","axis":null},"y":{"field":"r","type":"ordinal","axis":null},"text":{"field":"bv"},"color":{"condition":[{"test":"datum.bt=='up'","value":"#ff3c3c"},{"test":"datum.bt=='dn'","value":"#00dc00"},{"test":"datum.bt=='vol'","value":"#e6e600"}],"value":"#e6e6e6"}}}
  ]},
  {"width":143,"height":232,"layer":[
   {"data":{"name":"th"},"mark":{"type":"text","align":"left","baseline":"middle","fontSize":8,"font":"Noto Sans CJK SC","color":"#b8b8b8"},"encoding":{"x":{"datum":3.5,"type":"quantitative","scale":{"domain":[0,100],"nice":false,"zero":false},"axis":null},"y":{"field":"r","type":"ordinal","scale":{"domain":[0,1,2,3,4,5,6,7,8,9,10,11,12,13,14,15,16,17]},"axis":null},"text":{"field":"t"}}},
   {"data":{"name":"th"},"mark":{"type":"text","align":"right","baseline":"middle","fontSize":8,"font":"Noto Sans CJK SC","color":"#b8b8b8"},"encoding":{"x":{"datum":44.1,"type":"quantitative","axis":null},"y":{"field":"r","type":"ordinal","axis":null},"text":{"field":"p"}}},
   {"data":{"name":"th"},"mark":{"type":"text","align":"right","baseline":"middle","fontSize":8,"font":"Noto Sans CJK SC","color":"#b8b8b8"},"encoding":{"x":{"datum":64.3,"type":"quantitative","axis":null},"y":{"field":"r","type":"ordinal","axis":null},"text":{"field":"q"}}},
   {"data":{"name":"th"},"mark":{"type":"text","align":"right","baseline":"middle","fontSize":8,"font":"Noto Sans CJK SC","color":"#b8b8b8"},"encoding":{"x":{"datum":83.9,"type":"quantitative","axis":null},"y":{"field":"r","type":"ordinal","axis":null},"text":{"field":"d"}}},
   {"data":{"name":"th"},"mark":{"type":"text","align":"left","baseline":"middle","fontSize":8,"font":"Noto Sans CJK SC","color":"#b8b8b8"},"encoding":{"x":{"datum":87.4,"type":"quantitative","axis":null},"y":{"field":"r","type":"ordinal","axis":null},"text":{"field":"n"}}},
   {"data":{"name":"tr"},"mark":{"type":"text","align":"right","baseline":"middle","fontSize":8.5},"encoding":{"x":{"datum":18.2,"type":"quantitative","axis":null},"y":{"field":"r","type":"ordinal","axis":null},"text":{"field":"t"},"color":{"condition":{"test":"length(datum.t) > 3","value":"#e8e8e8"},"value":"#a8a8a8"}}},
   {"data":{"name":"tr"},"mark":{"type":"text","align":"right","baseline":"middle","fontSize":8.5,"color":"#ff3c3c"},"encoding":{"x":{"datum":44.1,"type":"quantitative","axis":null},"y":{"field":"r","type":"ordinal","axis":null},"text":{"field":"p"}}},
   {"data":{"name":"tr"},"mark":{"type":"text","align":"right","baseline":"middle","fontSize":8.5},"encoding":{"x":{"datum":64.3,"type":"quantitative","axis":null},"y":{"field":"r","type":"ordinal","axis":null},"text":{"field":"q"},"color":{"condition":{"test":"datum.n == '空平'","value":"#ff3c3c"},"value":"#00d800"}}},
   {"data":{"name":"tr"},"mark":{"type":"text","align":"right","baseline":"middle","fontSize":8.5,"color":"#e6e600"},"encoding":{"x":{"datum":83.9,"type":"quantitative","axis":null},"y":{"field":"r","type":"ordinal","axis":null},"text":{"field":"d"}}},
   {"data":{"name":"tr"},"mark":{"type":"text","align":"left","baseline":"middle","fontSize":8.5,"font":"Noto Sans CJK SC"},"encoding":{"x":{"datum":87.4,"type":"quantitative","axis":null},"y":{"field":"r","type":"ordinal","axis":null},"text":{"field":"n"},"color":{"condition":{"test":"datum.n == '空平'","value":"#ff3c3c"},"value":"#00d800"}}}
  ]},
  {"width":143,"height":11,"view":{"stroke":null},"layer":[
   {"data":{"name":"deco"},"mark":{"type":"rect","fill":"#000000","stroke":"#c00000","strokeWidth":1},"encoding":{"x":{"datum":0.7,"type":"quantitative","scale":{"domain":[0,100],"nice":false,"zero":false},"axis":null},"x2":{"datum":16},"y":{"datum":0.05,"type":"quantitative","scale":{"domain":[0,1],"nice":false},"axis":null},"y2":{"datum":0.95}}},
   {"data":{"name":"tab"},"mark":{"type":"text","align":"center","baseline":"middle","fontSize":8.5,"font":"Noto Sans CJK SC","color":"#c0c0c0"},"encoding":{"x":{"datum":8.4,"type":"quantitative","axis":null},"y":{"datum":0.5,"type":"quantitative","axis":null},"text":{"field":"t"}}}
  ]}
 ]}
]
}
